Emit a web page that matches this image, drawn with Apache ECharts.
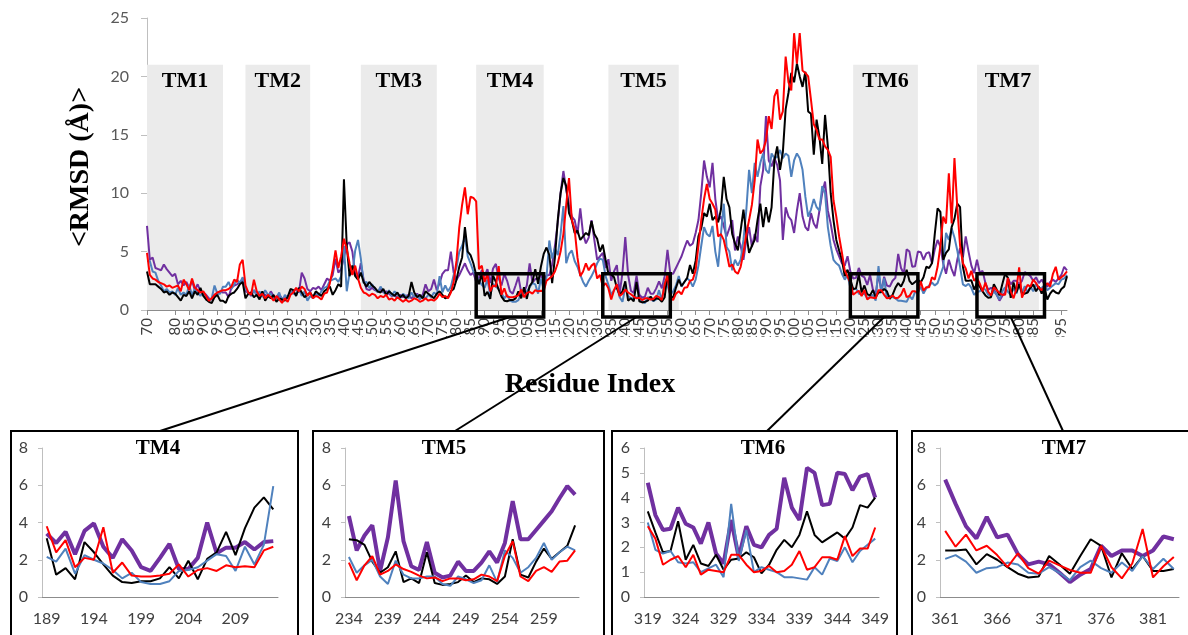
<!DOCTYPE html>
<html><head><meta charset="utf-8">
<script src="https://cdn.jsdelivr.net/npm/echarts@6/dist/echarts.min.js"></script>
<style>html,body{margin:0;padding:0;background:#fff}#chart{width:1188px;height:635px}</style>
</head><body><div id="chart"></div>
<script>
// ---------- DATA ----------
const firstResidue = 70, lastResidue = 397;
const residues = [];
for (let r = firstResidue; r <= lastResidue; r++) residues.push(String(r));

const blackRMSD = [
 3.3,2.2,2.2,2.2,2.0,1.8,1.5,1.6,1.3,1.5,1.4,1.1,0.8,1.3,1.2,1.6,1.0,1.6,1.3,1.9,1.2,0.9,0.7,0.6,1.1,1.3,0.8,0.8,
 0.6,1.2,1.4,1.5,1.8,2.2,2.4,1.0,1.4,1.5,1.1,1.3,0.9,1.6,0.8,1.2,1.0,1.3,0.7,1.0,0.9,0.8,1.1,1.8,1.7,1.2,1.9,1.5,1.1,1.3,1.5,1.1,1.6,1.4,1.2,1.6,
 1.8,2.0,1.3,1.7,2.2,2.0,11.2,5.5,2.9,3.8,2.9,2.6,3.2,2.4,2.0,2.4,2.1,
 1.9,1.6,1.5,1.8,1.3,1.6,1.4,1.2,1.5,1.1,1.3,1.0,1.2,2.4,1.5,1.1,1.3,1.0,1.6,1.4,1.2,1.0,1.4,1.6,1.3,1.0,
 1.1,1.6,1.8,2.6,3.7,4.5,7.1,5.0,4.7,4.0,3.0,2.2,
 3.15,1.2,1.55,0.95,2.95,2.4,1.75,1.15,0.8,0.75,0.85,0.85,1.0,1.6,1.0,1.95,0.95,2.05,2.4,3.5,2.25,3.7,4.8,5.35,4.7,
 2.3,4.5,7.7,10.0,11.3,10.6,8.3,7.7,6.6,6.8,6.0,6.3,6.6,6.4,7.6,6.5,6.1,5.0,5.6,4.3,
 3.1,3.05,2.8,1.9,1.3,1.6,2.45,0.8,1.0,0.75,2.4,0.75,0.65,0.7,0.8,1.15,0.8,1.0,0.95,0.7,1.1,3.1,1.2,1.05,1.9,2.6,2.05,2.4,2.75,3.85,
 3.1,4.2,6.3,7.0,8.3,8.0,9.1,7.7,8.0,7.5,8.6,11.4,9.5,8.8,6.5,5.7,5.1,6.8,8.6,6.5,4.9,5.5,6.0,7.7,9.1,7.1,8.8,7.5,8.8,12.8,
 14.0,12.0,13.5,17.2,18.6,20.3,19.5,21.1,20.0,19.1,20.4,17.0,16.8,13.3,16.3,14.8,12.5,16.7,14.0,10.0,7.7,6.0,5.1,4.3,2.9,
 3.45,2.6,1.8,1.85,3.05,1.5,2.1,1.35,1.25,1.7,1.1,1.5,1.55,1.8,1.6,0.95,1.3,1.9,2.3,2.0,2.5,3.45,2.5,2.2,2.4,2.6,2.35,2.8,3.7,3.6,4.0,
 6.5,8.7,8.4,4.3,4.9,5.2,7.1,7.8,9.1,8.8,3.7,
 2.5,2.5,2.55,1.75,2.3,2.0,1.6,1.25,1.05,1.1,2.2,1.75,1.25,2.2,3.1,2.75,1.05,2.35,1.5,2.2,1.4,1.4,1.5,
 1.9,2.2,1.6,2.0,1.4,1.9,0.9,1.4,1.7,1.5,1.4,1.8,2.0,2.9
];
const redRMSD = [
 4.9,3.0,2.7,2.6,2.4,2.3,2.2,2.0,2.1,1.9,2.0,2.1,1.6,2.6,2.2,1.7,2.7,1.9,1.7,1.5,1.6,1.2,0.8,1.0,1.3,1.5,1.6,1.7,
 1.7,1.8,2.0,2.6,2.4,3.9,4.3,2.1,1.5,1.3,2.6,1.6,1.2,1.4,1.0,1.3,1.1,0.8,1.2,0.9,0.6,1.0,0.7,1.3,1.5,1.9,1.6,2.0,1.8,1.2,1.5,1.0,1.2,1.1,0.9,1.4,
 1.5,2.3,3.5,5.1,3.6,4.6,6.1,5.2,4.0,3.0,3.8,2.7,1.9,1.5,1.4,1.2,1.4,
 1.3,1.0,1.2,1.1,1.3,0.9,1.0,0.8,1.1,0.9,0.7,0.9,0.7,0.8,1.0,0.9,0.7,0.8,1.0,0.8,0.9,0.8,1.0,1.4,1.1,1.2,
 1.0,1.5,2.4,4.2,7.1,9.0,10.5,8.2,9.7,9.6,9.3,3.5,
 3.8,2.4,3.05,1.6,2.1,2.0,3.75,1.3,1.85,1.15,1.1,1.1,1.15,1.25,1.75,1.1,1.45,1.55,1.4,1.7,1.6,1.65,1.6,2.5,2.7,
 2.9,3.3,4.0,5.0,6.5,9.0,11.3,7.7,6.9,4.5,2.9,3.3,4.0,3.4,3.8,4.0,2.7,3.0,2.0,2.3,
 1.85,0.9,1.7,2.2,1.2,1.4,1.75,1.5,1.35,1.15,1.0,1.05,0.85,1.0,1.0,0.9,0.95,1.2,1.1,0.85,2.2,3.0,1.1,0.85,1.4,1.6,1.35,1.9,1.95,2.5,
 2.6,3.4,5.5,7.7,9.5,10.8,9.5,9.1,8.6,6.3,6.5,6.0,4.9,3.7,3.9,3.3,3.1,3.7,4.9,6.5,7.7,9.0,11.1,14.6,13.4,13.7,14.5,16.6,15.5,18.3,
 18.9,16.3,17.0,21.7,19.5,18.8,23.7,21.1,23.7,20.5,20.3,20.0,18.0,15.9,15.4,14.6,14.6,14.0,13.7,13.1,9.4,8.0,6.3,4.9,3.4,
 2.85,2.35,1.3,1.5,1.65,1.2,1.7,0.9,1.1,1.05,1.0,1.7,1.7,1.3,1.0,1.05,1.25,1.0,1.05,1.3,1.85,1.1,1.2,1.6,1.6,1.5,2.45,1.65,1.95,1.95,2.8,
 2.6,3.7,5.5,8.0,7.4,11.7,7.4,13.0,8.8,5.5,4.0,
 3.55,2.7,3.35,2.5,2.75,2.25,1.6,2.35,1.55,1.25,1.95,1.7,1.45,1.3,1.3,2.75,1.6,1.0,1.8,3.65,1.05,1.65,2.15,
 2.0,2.6,2.3,1.9,1.7,2.0,2.3,2.0,3.1,3.7,2.6,2.8,3.0,3.3
];
const blueRMSD = [
 4.2,4.2,3.3,3.2,2.5,2.1,1.6,1.8,1.5,1.6,1.3,1.9,1.3,1.5,1.3,2.1,1.3,1.8,1.5,1.2,1.5,0.9,0.8,1.0,2.1,1.4,1.4,2.0,
 2.0,2.4,1.8,2.2,2.6,2.3,2.8,1.8,1.5,1.3,1.7,1.2,1.6,1.1,1.7,1.3,1.4,0.9,1.1,1.5,0.7,1.3,1.0,1.6,1.4,1.3,1.8,1.2,1.6,0.8,1.2,1.0,1.4,1.2,1.6,1.9,
 2.0,2.5,2.6,2.7,2.4,2.9,5.5,1.6,3.2,3.1,5.1,6.0,4.4,2.3,2.4,1.9,2.2,
 1.8,1.5,2.0,1.6,1.3,1.7,1.2,1.6,1.3,1.0,1.4,1.2,1.0,1.5,1.1,1.3,0.9,1.2,1.0,1.3,1.1,1.5,1.3,2.9,1.5,2.1,
 1.6,2.0,3.0,3.6,5.0,5.5,6.3,4.6,4.0,3.3,2.9,2.5,
 2.15,1.9,2.6,1.25,2.25,2.0,1.8,1.45,1.0,1.3,0.8,0.7,0.7,0.85,1.4,1.45,1.6,1.95,2.3,2.2,1.4,2.7,1.75,2.8,5.95,
 4.4,5.3,4.7,6.5,8.9,4.0,4.8,5.1,4.2,3.7,3.0,2.4,2.0,2.5,2.9,3.4,4.0,4.4,4.3,2.9,
 2.15,1.3,1.7,2.0,1.1,0.7,1.95,1.2,1.0,1.0,1.1,1.1,0.7,0.6,1.1,0.95,0.75,0.9,1.7,0.8,2.5,2.1,1.3,1.6,2.1,2.9,2.0,2.4,2.7,2.5,
 2.0,2.6,3.8,5.5,7.1,6.5,6.3,7.2,5.0,3.7,6.5,9.1,5.4,5.0,3.4,4.3,3.8,4.3,6.0,8.5,12.0,10.0,12.6,11.4,12.6,13.4,12.0,11.7,13.4,13.0,
 13.1,13.7,13.0,13.4,13.2,11.4,12.8,13.4,13.0,12.0,9.7,8.0,8.6,9.5,8.8,8.5,10.6,10.0,7.1,5.5,4.3,4.0,3.8,3.1,2.6,
 3.0,1.9,1.75,1.85,1.4,1.35,1.4,1.0,1.15,1.3,0.8,3.75,1.45,2.7,1.0,1.2,1.1,1.0,0.8,0.8,0.75,0.7,1.2,0.9,1.55,1.45,2.0,1.4,1.85,2.1,2.35,
 2.1,2.3,3.0,3.7,6.6,6.0,7.0,6.2,5.1,3.7,2.2,
 2.05,2.25,1.9,1.3,1.55,1.6,1.85,1.75,1.3,1.25,1.6,1.3,0.9,1.6,1.95,1.55,1.3,1.85,1.4,2.2,1.5,2.05,1.5,
 2.0,1.6,2.2,1.8,1.9,2.1,1.7,1.9,2.1,2.3,2.2,2.6,2.7,3.0
];
const purpleRMSD = [
 7.2,4.3,4.5,3.6,3.5,3.4,3.9,3.5,3.2,2.9,3.1,2.2,2.5,2.1,2.4,1.9,2.5,1.7,2.2,1.6,1.5,1.3,1.0,0.9,1.3,1.4,1.6,1.5,
 1.5,1.1,1.9,2.1,2.2,2.4,2.6,1.6,1.5,1.2,1.7,1.4,1.2,1.5,1.3,1.1,1.6,1.2,1.0,1.3,1.0,0.9,1.2,1.4,1.6,1.8,1.5,3.2,2.7,1.8,1.6,1.9,1.8,2.0,1.7,2.2,
 2.7,2.5,3.0,4.4,3.2,3.5,4.5,5.6,5.8,5.0,3.0,2.8,4.0,2.6,1.8,1.7,1.9,
 1.7,1.6,1.8,1.5,1.6,1.4,1.2,1.3,1.0,1.3,1.1,1.2,1.3,1.0,1.2,1.4,1.1,1.3,2.2,1.6,1.8,2.6,1.7,2.3,3.1,3.4,
 3.4,5.0,3.2,2.6,3.0,3.5,4.0,3.4,3.0,3.2,2.4,2.8,
 3.4,2.9,3.5,2.3,3.55,3.95,2.7,2.1,3.1,2.5,1.6,1.4,2.1,2.85,1.5,1.5,2.1,4.0,2.35,2.65,2.65,2.95,2.55,2.95,3.0,
 3.9,5.5,7.5,10.0,11.9,10.3,9.0,8.0,7.7,6.5,8.7,6.5,5.7,6.2,7.7,6.0,4.3,4.6,4.9,3.6,
 4.35,2.5,3.3,3.85,1.4,3.2,6.25,3.0,1.65,1.45,2.95,1.3,1.05,1.15,1.9,1.4,1.4,1.85,2.45,1.85,2.9,5.15,3.1,3.1,3.6,4.1,4.6,5.3,5.95,5.5,
 5.7,6.6,7.7,10.0,12.8,11.4,10.5,12.6,9.5,7.7,8.0,7.2,6.3,7.0,7.7,5.1,6.3,5.5,4.3,6.0,7.1,5.4,6.5,5.8,10.6,12.0,16.6,12.8,12.3,13.0,
 12.4,11.1,6.0,8.8,8.0,7.7,6.6,8.5,10.0,8.0,7.1,6.8,8.3,7.4,7.0,8.5,10.0,11.0,8.5,7.4,6.0,5.2,4.6,4.0,3.8,
 4.6,3.3,2.7,2.75,3.6,2.95,2.8,2.15,3.0,1.75,1.35,3.1,1.6,2.85,2.1,2.0,2.5,2.75,4.8,3.6,3.1,5.2,5.0,3.7,3.75,5.0,4.95,4.3,4.85,4.95,4.0,
 5.2,6.0,5.4,4.0,3.1,4.3,3.5,2.9,4.3,5.3,4.5,
 6.3,5.0,3.8,3.15,4.3,3.2,3.35,2.3,1.75,1.9,1.75,1.3,0.8,1.2,1.5,2.75,2.2,2.5,2.5,2.2,2.5,3.25,3.1,
 2.9,2.5,2.8,2.3,2.6,2.2,2.0,2.4,2.6,2.4,2.7,3.0,3.7,3.4
];

// transmembrane helix bands: [label, first residue, last residue]
const tmBands = [['TM1',70,97],['TM2',105,128],['TM3',146,173],['TM4',187,211],['TM5',234,259],['TM6',321,344],['TM7',365,387]];
const bandTop = 21;
// zoom boxes on main chart: [first residue, last residue, low RMSD, high RMSD]
const zoomBoxes = [[187,211,-0.6,3.1],[232,256,-0.6,3.1],[320,344,-0.6,3.1],[365,389,-0.6,3.1]];
// insets: [title, first residue, last residue, y max, y step]
const insetRanges = [['TM4',189,213,8,2],['TM5',234,263,8,2],['TM6',319,349,6,1],['TM7',361,383,8,2]];
const labelStep = 5;

// ---------- LAYOUT / STYLE ----------
const COLORS = {black:'#000000', blue:'#4F81BD', red:'#FF0000', purple:'#7030A0'};
const mainGrid = {left:147, top:18, width:920, height:292};
const insetGrids = [
  {left:42, top:448, width:236, height:149},
  {left:345, top:448, width:234, height:149},
  {left:644, top:448, width:235, height:149},
  {left:940, top:448, width:239, height:149}
];
const insetFrames = [[11,431,287],[313,431,291],[612,431,285],[912,431,290]];
const insetTitleX = [158,444,763,1064];
const connectorEnds = [[160,431],[455,431],[767,431],[1063,431]];
const serif = 'Liberation Serif';
const sans = 'Lato';

const chart = echarts.init(document.getElementById('chart'), null, {renderer:'canvas'});

const grids = [mainGrid].concat(insetGrids);
const everyStep = (idx) => idx % labelStep === 0;
const xAxes = [{
  type:'category', gridIndex:0, data:residues, boundaryGap:false,
  axisLine:{lineStyle:{color:'#8C8C8C', width:1}},
  axisTick:{interval:everyStep, length:5, lineStyle:{color:'#8C8C8C'}},
  axisLabel:{interval:everyStep, rotate:90, margin:8, fontSize:15, color:'#404040', fontFamily:sans,
    showMinLabel:true, showMaxLabel:true, hideOverlap:false},
  splitLine:{show:false}
}];
const yAxes = [{
  type:'value', gridIndex:0, min:0, max:25, interval:5,
  axisLine:{show:true, lineStyle:{color:'#BFBFBF'}},
  axisTick:{show:true, length:6, lineStyle:{color:'#BFBFBF'}},
  axisLabel:{fontSize:16, color:'#595959', margin:18, fontFamily:sans},
  splitLine:{show:false}
}];

const series = [];
function mainLine(name, data, color, extra) {
  return Object.assign({type:'line', name, xAxisIndex:0, yAxisIndex:0, data, symbol:'none',
    lineStyle:{color, width:2}, itemStyle:{color}, silent:true, animation:false}, extra || {});
}
series.push(mainLine('purple', purpleRMSD, COLORS.purple, {
  markArea:{silent:true, itemStyle:{color:'#EBEBEB'},
    label:{show:true, position:'insideTop', distance:6, fontSize:22, fontWeight:'bold', fontFamily:serif, color:'#000'},
    data: tmBands.map(b => [{name:b[0], xAxis:String(b[1]), yAxis:0}, {xAxis:String(b[2]), yAxis:bandTop}])}
}));
series.push(mainLine('blue', blueRMSD, COLORS.blue));
series.push(mainLine('black', blackRMSD, COLORS.black));
series.push(mainLine('red', redRMSD, COLORS.red));

// zoom boxes + connectors
series.push({
  type:'custom', xAxisIndex:0, yAxisIndex:0, z:200, silent:true, clip:false, animation:false,
  data: zoomBoxes.map(b => [residues.indexOf(String(b[0])), residues.indexOf(String(b[1])), b[2], b[3]]),
  encode:{x:[0,1], y:[2,3]},
  renderItem:(params, api) => {
    const i = params.dataIndex;
    const p0 = api.coord([api.value(0), api.value(3)]);
    const p1 = api.coord([api.value(1), api.value(2)]);
    const cx = (p0[0] + p1[0]) / 2;
    return {type:'group', children:[
      {type:'rect', shape:{x:p0[0], y:p0[1], width:p1[0]-p0[0], height:p1[1]-p0[1]},
        style:{fill:'none', stroke:'#000', lineWidth:3.5}},
      {type:'line', shape:{x1:cx, y1:p1[1], x2:connectorEnds[i][0], y2:connectorEnds[i][1]},
        style:{stroke:'#000', lineWidth:2}}
    ]};
  }
});

// insets
insetRanges.forEach((ins, k) => {
  const gi = k + 1;
  const i0 = residues.indexOf(String(ins[1]));
  const i1 = residues.indexOf(String(ins[2])) + 1;
  xAxes.push({
    type:'category', gridIndex:gi, data:residues.slice(i0, i1), boundaryGap:true,
    axisLine:{lineStyle:{color:'#8C8C8C'}},
    axisTick:{interval:4, length:5, lineStyle:{color:'#8C8C8C'}},
    axisLabel:{interval:4, margin:14, fontSize:16, color:'#404040', fontFamily:sans},
    splitLine:{show:false}
  });
  yAxes.push({
    type:'value', gridIndex:gi, min:0, max:ins[3], interval:ins[4],
    axisLine:{show:true, lineStyle:{color:'#BFBFBF'}},
    axisTick:{show:true, length:4, lineStyle:{color:'#BFBFBF'}},
    axisLabel:{fontSize:16, color:'#404040', margin:14, fontFamily:sans},
    splitLine:{show:false}
  });
  const sets = [[purpleRMSD, COLORS.purple, 4], [blackRMSD, COLORS.black, 2], [blueRMSD, COLORS.blue, 2], [redRMSD, COLORS.red, 2]];
  sets.forEach(s => {
    series.push({type:'line', xAxisIndex:gi, yAxisIndex:gi, data:s[0].slice(i0, i1), symbol:'none',
      lineStyle:{color:s[1], width:s[2]}, itemStyle:{color:s[1]}, silent:true, animation:false});
  });
});

const graphic = [
  // y axis title
  {type:'text', x:81, y:167, rotation:Math.PI/2, z:10,
    style:{text:'<RMSD (Å)>', font:'bold 28px "' + serif + '"', fill:'#000', align:'center', verticalAlign:'middle'}},
  // x axis title
  {type:'text', x:590, y:385, z:10,
    style:{text:'Residue Index', font:'bold 28px "' + serif + '"', fill:'#000', align:'center', verticalAlign:'middle'}},
  // label clipping band (the original chart area cut the hundreds digit)
  {type:'rect', shape:{x:130, y:337, width:950, height:16}, style:{fill:'#fff'}, z:50}
];
insetFrames.forEach((f, k) => {
  graphic.push({type:'rect', shape:{x:f[0], y:f[1], width:f[2], height:260}, z:60,
    style:{fill:'none', stroke:'#000', lineWidth:2}});
  graphic.push({type:'text', x:insetTitleX[k], y:449, z:61,
    style:{text:insetRanges[k][0], font:'bold 21px "' + serif + '"', fill:'#000', align:'center', verticalAlign:'middle'}});
});

chart.setOption({
  animation:false,
  backgroundColor:'#fff',
  grid:grids,
  xAxis:xAxes,
  yAxis:yAxes,
  series:series,
  graphic:graphic
});
</script></body></html>
